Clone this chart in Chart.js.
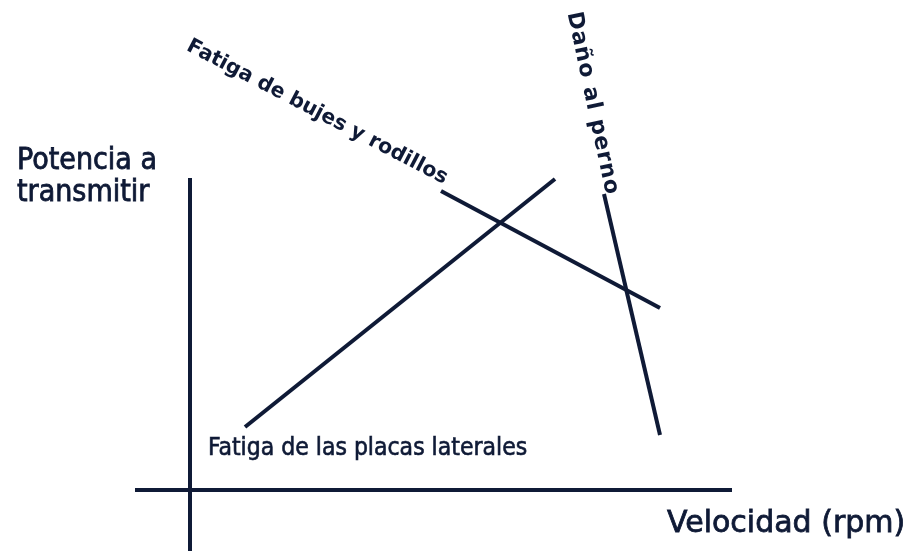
<!DOCTYPE html>
<html><head><meta charset="utf-8">
<script src="https://cdn.jsdelivr.net/npm/chart.js@4/dist/chart.umd.min.js"></script>
<style>html,body{margin:0;padding:0;background:#fff;}#wrap{width:916px;height:551px;}</style>
</head><body><div id="wrap"><canvas id="c"></canvas></div>
<script>
// data units: velocity (x) and power (y), arbitrary scale
const placasX = [11, 73];
const placasY = [12.6, 62.2];
const bujesX = [50.2, 94];
const bujesY = [59.8, 36.4];
const pernoX = [82.8, 94];
const pernoY = [59.2, 11];
const xAxisX = [-11, 108.4];
const xAxisY = [0, 0];
const yAxisX = [0, 0];
const yAxisY = [62.4, -12.2];

const labels = [
  {text: 'Potencia a', x: -34.6, y: 65.8, rot: 0, font: '30px "DejaVu Sans Condensed"', ls: 0, sw: 0.8},
  {text: 'transmitir', x: -34.6, y: 59.3, rot: 0, font: '30px "DejaVu Sans Condensed"', ls: 0, sw: 0.8},
  {text: 'Fatiga de las placas laterales', x: 3.6, y: 8.2, rot: 0, font: '24.5px "DejaVu Sans Condensed"', ls: 0, sw: 0.6},
  {text: 'Velocidad (rpm)', x: 95.4, y: -6.9, rot: 0, font: '30px "DejaVu Sans"', ls: 0, sw: 0.8},
  {text: 'Fatiga de bujes y rodillos', x: -0.4, y: 89, rot: 27.5, font: 'bold 20.5px "DejaVu Sans"', ls: 0, sw: 0},
  {text: 'Daño al perno', x: 76.6, y: 95.6, rot: 78, font: 'bold 22px "DejaVu Sans"', ls: 1, sw: 0}
];

const ink = '#0f1a36';
function pts(xs, ys){ return xs.map((v,i)=>({x:v, y:ys[i]})); }
function ds(xs, ys){ return {data: pts(xs,ys), showLine: true, borderColor: ink, borderWidth: 4, pointRadius: 0, fill: false, tension: 0}; }

const textPlugin = {
  id: 'texts',
  afterDatasetsDraw(chart){
    const {ctx, scales:{x, y}} = chart;
    ctx.save();
    ctx.fillStyle = ink;
    ctx.strokeStyle = ink;
    labels.forEach(l => {
      ctx.save();
      ctx.translate(x.getPixelForValue(l.x), y.getPixelForValue(l.y));
      ctx.rotate(l.rot * Math.PI/180);
      ctx.font = l.font;
      if ('letterSpacing' in ctx) ctx.letterSpacing = l.ls + 'px';
      ctx.textAlign = 'left';
      ctx.textBaseline = 'middle';
      ctx.fillText(l.text, 0, 0);
      if (l.sw > 0) { ctx.lineWidth = l.sw; ctx.strokeText(l.text, 0, 0); }
      ctx.restore();
    });
    ctx.restore();
  }
};

new Chart(document.getElementById('c'), {
  type: 'scatter',
  data: { datasets: [ds(placasX, placasY), ds(bujesX, bujesY), ds(pernoX, pernoY), ds(xAxisX, xAxisY), ds(yAxisX, yAxisY)] },
  options: {
    responsive: true, maintainAspectRatio: false, animation: false,
    layout: {padding: 0},
    plugins: {legend: {display: false}, tooltip: {enabled: false}},
    scales: {
      x: {type: 'linear', display: false, min: -38, max: 145.2},
      y: {type: 'linear', display: false, min: -12.2, max: 98}
    }
  },
  plugins: [textPlugin]
});
</script>
</body></html>
